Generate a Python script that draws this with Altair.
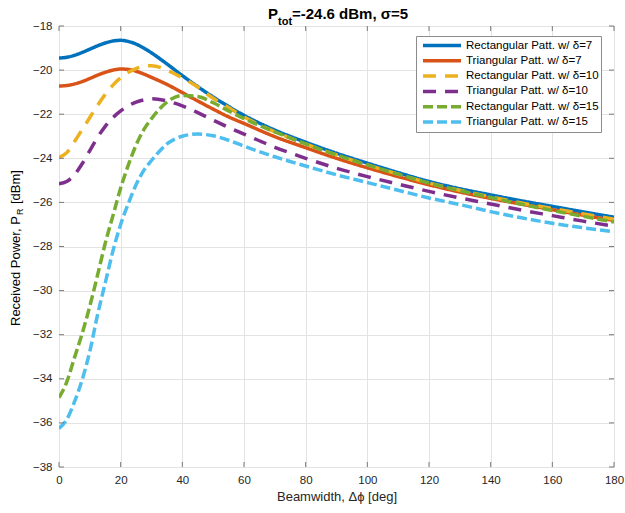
import altair as alt
import pandas as pd

# ---------------- data ----------------
beamwidth = [0, 2.5, 5, 7.5, 10, 12.5, 15, 17.5, 20, 22.5, 25, 27.5, 30, 35, 40, 45, 50, 55, 60,
             70, 80, 90, 100, 110, 120, 130, 140, 150, 160, 170, 180]

rect_d7 = [-19.45, -19.42, -19.33, -19.2, -19.05, -18.9, -18.77, -18.68, -18.65, -18.7, -18.82, -19.0,
           -19.22, -19.72, -20.25, -20.75, -21.22, -21.65, -22.05, -22.72, -23.27, -23.77, -24.22,
           -24.65, -25.05, -25.38, -25.66, -25.93, -26.18, -26.43, -26.67]
tri_d7 = [-20.72, -20.7, -20.63, -20.52, -20.38, -20.23, -20.1, -20.0, -19.95, -19.97, -20.05, -20.18,
          -20.33, -20.65, -21.02, -21.4, -21.77, -22.12, -22.42, -23.02, -23.52, -24.0, -24.43,
          -24.83, -25.2, -25.53, -25.82, -26.08, -26.33, -26.58, -26.82]
rect_d10 = [-23.95, -23.75, -23.25, -22.7, -22.15, -21.6, -21.1, -20.68, -20.35, -20.1, -19.93, -19.83,
            -19.8, -20.0, -20.35, -20.77, -21.28, -21.7, -22.12, -22.8, -23.35, -23.85, -24.3,
            -24.72, -25.12, -25.45, -25.75, -26.03, -26.28, -26.52, -26.76]
tri_d10 = [-25.15, -25.05, -24.75, -24.25, -23.65, -23.05, -22.55, -22.15, -21.85, -21.62, -21.45, -21.35,
           -21.3, -21.4, -21.62, -21.93, -22.27, -22.6, -22.9, -23.5, -24.0, -24.45, -24.83,
           -25.17, -25.5, -25.8, -26.07, -26.35, -26.6, -26.85, -27.08]
rect_d15 = [-34.85, -34.15, -33.05, -31.95, -30.7, -29.3, -27.85, -26.6, -25.35, -24.3, -23.4, -22.7,
            -22.2, -21.45, -21.15, -21.2, -21.48, -21.85, -22.2, -22.8, -23.35, -23.85, -24.3,
            -24.72, -25.12, -25.47, -25.78, -26.08, -26.37, -26.63, -26.89]
tri_d15 = [-36.25, -35.85, -35.05, -34.05, -32.75, -31.1, -29.65, -28.2, -27.0, -26.05, -25.2, -24.55,
           -24.1, -23.35, -23.0, -22.9, -22.98, -23.18, -23.45, -23.93, -24.35, -24.75, -25.1,
           -25.45, -25.8, -26.1, -26.42, -26.7, -26.95, -27.15, -27.33]

series_names = ["Rectangular Patt. w/ δ=7", "Triangular Patt. w/ δ=7",
                "Rectangular Patt. w/ δ=10", "Triangular Patt. w/ δ=10",
                "Rectangular Patt. w/ δ=15", "Triangular Patt. w/ δ=15"]
series_values = [rect_d7, tri_d7, rect_d10, tri_d10, rect_d15, tri_d15]

x_ticks = [0, 20, 40, 60, 80, 100, 120, 140, 160, 180]
y_ticks = [-38, -36, -34, -32, -30, -28, -26, -24, -22, -20, -18]

# ---------------- styles ----------------
colors = ["#0072BD", "#D95319", "#EDB120", "#7E2F8E", "#77AC30", "#4DBEEE"]
dashes = [[1, 0], [1, 0], [13, 9], [13, 9], [10, 4], [10, 4]]
FONT = "Liberation Sans"
AXIS_COLOR = "#7a7a7a"
W, H = 555, 441

rows = []
for name, vals in zip(series_names, series_values):
    for xv, yv in zip(beamwidth, vals):
        rows.append({"bw": xv, "pr": yv, "series": name})
df = pd.DataFrame(rows)

xs = alt.Scale(domain=[0, 180], nice=False, zero=False)
ys = alt.Scale(domain=[-38, -18], nice=False, zero=False)

x_axis = alt.Axis(
    values=x_ticks, title="Beamwidth, Δϕ [deg]", grid=True, gridColor="#e3e3e3",
    domain=False, ticks=False, labelPadding=7, labelFlush=False, labelFont=FONT, labelFontSize=11.5,
    labelColor="#262626", titleFont=FONT, titleFontSize=13, titleFontWeight="normal",
    titleColor="#262626", titlePadding=5)
y_axis = alt.Axis(
    values=y_ticks, title="", grid=True, gridColor="#e3e3e3",
    domain=False, ticks=False, labelPadding=7, labelFlush=False, labelFont=FONT, labelFontSize=11.5,
    labelColor="#262626")

legend = alt.Legend(
    title=None, orient="none", legendX=357, legendY=10,
    symbolType="stroke", symbolSize=1444, symbolStrokeWidth=3.5,
    clipHeight=15, rowPadding=0.3, padding=2, symbolOffset=3, labelOffset=3,
    labelFont=FONT, labelFontSize=11.5, labelColor="#000000", labelLimit=0,
    strokeColor="#8c8c8c", fillColor="white", cornerRadius=0,
)

lines = alt.Chart(df).mark_line(strokeWidth=3.5, interpolate="monotone", clip=True).encode(
    x=alt.X("bw:Q", scale=xs, axis=x_axis),
    y=alt.Y("pr:Q", scale=ys, axis=y_axis),
    color=alt.Color("series:N", scale=alt.Scale(domain=series_names, range=colors), legend=legend),
    strokeDash=alt.StrokeDash("series:N", scale=alt.Scale(domain=series_names, range=dashes), legend=legend),
)

xt = pd.DataFrame({"bw": x_ticks})
yt = pd.DataFrame({"pr": y_ticks})
tick_bottom = alt.Chart(xt).mark_rule(color=AXIS_COLOR, strokeWidth=1).encode(
    x=alt.X("bw:Q", scale=xs, axis=x_axis), y=alt.value(H), y2=alt.value(H - 5))
tick_top = alt.Chart(xt).mark_rule(color=AXIS_COLOR, strokeWidth=1).encode(
    x=alt.X("bw:Q", scale=xs, axis=x_axis), y=alt.value(0), y2=alt.value(5))
tick_left = alt.Chart(yt).mark_rule(color=AXIS_COLOR, strokeWidth=1).encode(
    y=alt.Y("pr:Q", scale=ys, axis=y_axis), x=alt.value(0), x2=alt.value(5))
tick_right = alt.Chart(yt).mark_rule(color=AXIS_COLOR, strokeWidth=1).encode(
    y=alt.Y("pr:Q", scale=ys, axis=y_axis), x=alt.value(W), x2=alt.value(W - 5))


def txt(s, x, y, size, weight="normal", align="left", angle=0, baseline="alphabetic"):
    kw = dict(font=FONT, fontSize=size, fontWeight=weight, align=align, baseline=baseline,
              color="#000000")
    if angle:
        kw["angle"] = angle
    return alt.Chart(pd.DataFrame({"t": [s]})).mark_text(**kw).encode(
        text="t:N", x=alt.value(x), y=alt.value(y))


title_parts = ["P", "tot", "=-24.6 dBm, σ=5"]
t1 = txt(title_parts[0], 209, -7, 15, "bold")
t2 = txt(title_parts[1], 219, -1, 11, "bold")
t3 = txt(title_parts[2], 233, -7, 15, "bold")

ytitle_parts = ["Received Power, P", "R", "[dBm]"]
yx = -43
y1 = txt(ytitle_parts[0], yx, 300, 13, angle=270, baseline="middle")
y2 = txt(ytitle_parts[1], yx + 4, 189, 9, angle=270, baseline="middle")
y3 = txt(ytitle_parts[2], yx, 178, 13, angle=270, baseline="middle")

chart = alt.layer(lines, tick_bottom, tick_top, tick_left, tick_right,
                  t1, t2, t3, y1, y2, y3).properties(
    width=W, height=H,
    padding={"left": 59, "top": 26, "right": 11, "bottom": 46},
    autosize=alt.AutoSizeParams(type="none"),
).configure_view(stroke=AXIS_COLOR, strokeWidth=1).configure(background="white")

chart.save("out.html", embed_options={"renderer": "svg", "actions": False})
